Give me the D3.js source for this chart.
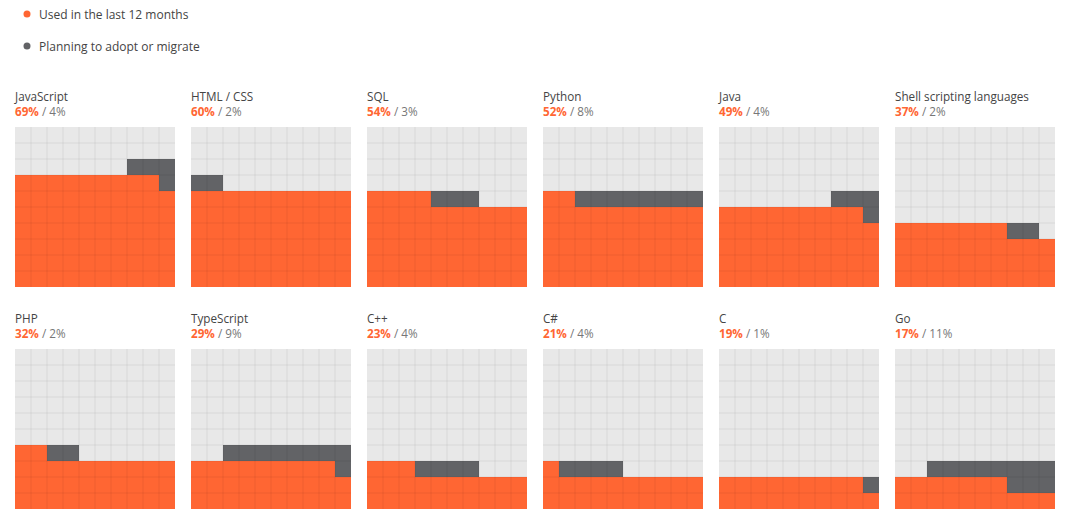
<!DOCTYPE html>
<html><head><meta charset="utf-8">
<script src="https://cdn.jsdelivr.net/npm/d3@7/dist/d3.min.js"></script>
<style>body{margin:0;background:#fff;font-family:"Segoe UI","Open Sans","Noto Sans",sans-serif;}</style>
</head><body><svg id="c" width="1069" height="518"></svg>
<script>
const languages = ["JavaScript","HTML / CSS","SQL","Python","Java","Shell scripting languages","PHP","TypeScript","C++","C#","C","Go"];
const usedValues = [69,60,54,52,49,37,32,29,23,21,19,17];
const planningValues = [4,2,3,8,4,2,2,9,4,4,1,11];
const legendLabels = ["Used in the last 12 months","Planning to adopt or migrate"];

const ORANGE="#ff6633", GRAY="#626366", EMPTY="#e8e8e8";
const svg=d3.select("#c");
const font='"Segoe UI","Open Sans","Noto Sans",sans-serif';

// legend
const leg=svg.append("g");
legendLabels.forEach((t,i)=>{
  const y=14+i*32;
  leg.append("circle").attr("cx",27).attr("cy",y).attr("r",3.5).attr("fill",i?GRAY:ORANGE);
  leg.append("text").attr("x",39).attr("y",y+4.5).attr("font-size",12).attr("font-family",font).attr("fill","#444").text(t);
});

const cols=6, panelStep=176, size=160, n=10;
const xCell=d3.scaleBand().domain(d3.range(n)).range([0,size]).padding(0);
const yCell=d3.scaleBand().domain(d3.range(n)).range([size,0]).padding(0);
const gridTop=[127,349];

languages.forEach((lang,k)=>{
  const r=Math.floor(k/cols), c=k%cols;
  const gx=15+c*panelStep, gy=gridTop[r];
  const g=svg.append("g").attr("transform",`translate(${gx},${gy})`);
  const u=usedValues[k], p=planningValues[k];
  const cells=[];
  for(let i=0;i<100;i++) cells.push({row:Math.floor(i/n),col:i%n,type:"empty"});
  const at=(row,col)=>cells[row*n+col];
  for(let i=0;i<u;i++) at(Math.floor(i/n),i%n).type="used";
  const startRow=Math.floor(u/n);
  for(let j=0;j<p;j++){
    const pos=u+j, row=Math.floor(pos/n);
    const col=(row===startRow)?pos%n:(n-1-(pos%n));
    at(row,col).type="plan";
  }
  g.selectAll("rect.cell").data(cells).join("rect").attr("class","cell")
    .attr("x",d=>xCell(d.col)).attr("y",d=>yCell(d.row))
    .attr("width",xCell.bandwidth()).attr("height",yCell.bandwidth())
    .attr("fill",d=>d.type==="used"?ORANGE:d.type==="plan"?GRAY:EMPTY);
  // faint grid
  const lines=d3.range(1,n);
  g.selectAll("line.v").data(lines).join("line").attr("class","v")
    .attr("x1",d=>xCell(d)).attr("x2",d=>xCell(d)).attr("y1",0).attr("y2",size)
    .attr("stroke","rgba(0,0,0,0.03)").attr("stroke-width",2);
  g.selectAll("line.h").data(lines).join("line").attr("class","h")
    .attr("y1",d=>yCell(d-1)).attr("y2",d=>yCell(d-1)).attr("x1",0).attr("x2",size)
    .attr("stroke","rgba(0,0,0,0.03)").attr("stroke-width",2);
  // titles
  svg.append("text").attr("x",gx).attr("y",gy-26).attr("font-size",11.7).attr("font-family",font).attr("fill","#444").text(lang);
  const t=svg.append("text").attr("x",gx).attr("y",gy-11).attr("font-size",11.7).attr("font-family",font);
  t.append("tspan").attr("fill",ORANGE).attr("font-weight","bold").text(u+"%");
  t.append("tspan").attr("fill","#777").text(" / "+p+"%");
});
</script></body></html>
